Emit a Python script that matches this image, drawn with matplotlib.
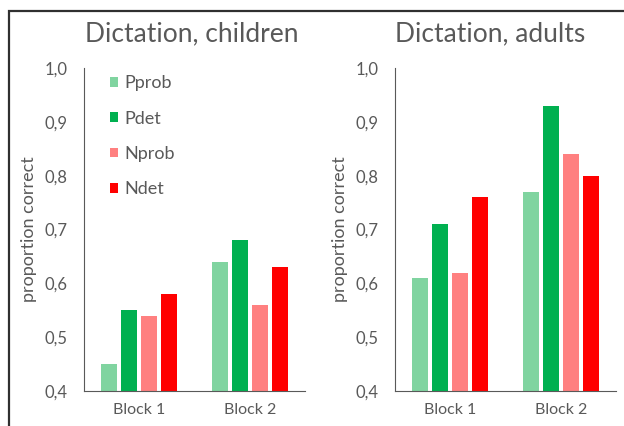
import numpy as np
import matplotlib
matplotlib.use("Agg")
import matplotlib.pyplot as plt
from matplotlib.patches import Rectangle

# Data
blocks = ["Block 1", "Block 2"]
series = ["Pprob", "Pdet", "Nprob", "Ndet"]
colors = ["#80d4a0", "#00b050", "#ff8080", "#ff0000"]
children = {
    "Pprob": [0.45, 0.64],
    "Pdet": [0.55, 0.68],
    "Nprob": [0.54, 0.56],
    "Ndet": [0.58, 0.63],
}
adults = {
    "Pprob": [0.61, 0.77],
    "Pdet": [0.71, 0.93],
    "Nprob": [0.62, 0.84],
    "Ndet": [0.76, 0.80],
}
yticks = [0.4, 0.5, 0.6, 0.7, 0.8, 0.9, 1.0]
ytick_labels = ["0,4", "0,5", "0,6", "0,7", "0,8", "0,9", "1,0"]

plt.rcParams["font.family"] = ["Lato", "DejaVu Sans"]
text_color = "#595959"

W, H = 624, 426
fig = plt.figure(figsize=(W / 100, H / 100), dpi=100)

# outer frame (cropped on the right and bottom)
fig.patches.append(Rectangle((9 / W, -0.5), 2.0, (H - 11) / H + 0.5,
                             transform=fig.transFigure, fill=False,
                             edgecolor="#303030", linewidth=1.6))


def draw_panel(ax, data, title, title_x, legend=False):
    x = np.arange(len(blocks))
    slot = 0.181
    width = slot * 0.785
    for i, name in enumerate(series):
        ax.bar(x + (i - 1.5) * slot, data[name], width, bottom=0,
               color=colors[i], label=name, zorder=2)
    ax.set_xlim(-0.5, 1.5)
    ax.set_ylim(0.4, 1.0)
    ax.set_yticks(yticks)
    ax.set_yticklabels(ytick_labels)
    ax.set_xticks(x)
    ax.set_xticklabels(blocks)
    ax.tick_params(length=0, colors=text_color, labelsize=11.5)
    ax.tick_params(axis="y", pad=12, labelsize=12)
    ax.tick_params(axis="x", pad=9)
    ax.spines["top"].set_visible(False)
    ax.spines["right"].set_visible(False)
    ax.spines["left"].set_color("#595959")
    ax.spines["bottom"].set_color("#595959")
    ax.set_ylabel("proportion correct", color=text_color, fontsize=13,
                  labelpad=5)
    ax.set_title(title, color=text_color, fontsize=19, pad=19, x=title_x)
    if legend:
        ax.legend(loc="upper left", bbox_to_anchor=(0.043, 1.028), frameon=False,
                  fontsize=13, labelspacing=1.07, handlelength=0.45,
                  handleheight=0.45, handletextpad=0.35, labelcolor=text_color)


ax1 = fig.add_axes([84 / W, 35 / H, 221 / W, 323 / H])
draw_panel(ax1, children, "Dictation, children", (191.5 - 84) / 221,
           legend=True)
ax2 = fig.add_axes([395 / W, 35 / H, 221 / W, 323 / H])
draw_panel(ax2, adults, "Dictation, adults", (490 - 395) / 221)

fig.savefig("out.png", dpi=100)
